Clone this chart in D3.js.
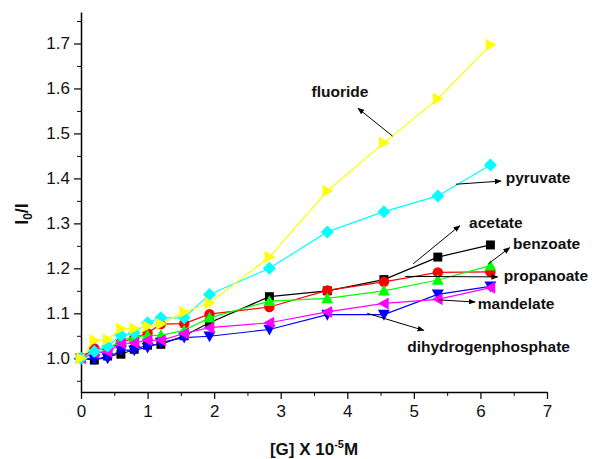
<!DOCTYPE html>
<html>
<head>
<meta charset="utf-8">
<script src="https://cdn.jsdelivr.net/npm/d3@7"></script>
<style>
  body { margin: 0; background: #fff; }
  text { font-family: "Liberation Sans", Arial, Helvetica, sans-serif; }
</style>
</head>
<body>
<script>
let width = 592, height = 459;

// concentration of guest, x 10^-5 M
let conc = [0, 0.2, 0.4, 0.6, 0.8, 1.0, 1.2, 1.55, 1.93, 2.83, 3.7, 4.55, 5.36, 6.15];

let acetate    = [1.0, 0.996, 1.005, 1.009, 1.02, 1.029, 1.031, 1.05, 1.079, 1.137, 1.15, 1.175, 1.225, 1.252];
let propanoate = [1.0, 1.022, 1.02, 1.035, 1.045, 1.056, 1.076, 1.077, 1.098, 1.114, 1.151, 1.17, 1.191, 1.192];
let benzoate   = [1.0, 1.01, 1.02, 1.04, 1.047, 1.051, 1.051, 1.062, 1.09, 1.127, 1.133, 1.15, 1.174, 1.206];
let phosphate  = [1.0, 0.998, 1.0, 1.018, 1.018, 1.024, 1.035, 1.046, 1.049, 1.064, 1.097, 1.097, 1.142, 1.16];
let mandelate  = [1.0, 1.012, 1.014, 1.033, 1.034, 1.04, 1.04, 1.055, 1.068, 1.079, 1.103, 1.122, 1.131, 1.157];
let pyruvate   = [1.0, 1.015, 1.027, 1.051, 1.056, 1.079, 1.09, 1.09, 1.142, 1.20, 1.281, 1.326, 1.361, 1.43];
let fluoride   = [1.0, 1.04, 1.042, 1.066, 1.066, 1.071, 1.076, 1.103, 1.123, 1.225, 1.372, 1.479, 1.577, 1.697];

let xTicks = [0, 1, 2, 3, 4, 5, 6, 7];
let yTicks = [1.0, 1.1, 1.2, 1.3, 1.4, 1.5, 1.6, 1.7];

let series = [
  { name: 'acetate', values: acetate, color: '#000000', shape: 'square' },
  { name: 'propanoate', values: propanoate, color: '#ff0000', shape: 'circle' },
  { name: 'benzoate', values: benzoate, color: '#00ff00', shape: 'up' },
  { name: 'dihydrogenphosphate', values: phosphate, color: '#0000ff', shape: 'down' },
  { name: 'mandelate', values: mandelate, color: '#ff00ff', shape: 'left' },
  { name: 'pyruvate', values: pyruvate, color: '#00ffff', shape: 'diamond' },
  { name: 'fluoride', values: fluoride, color: '#ffff00', shape: 'right' }
];

// label text position and arrow (from -> to), in data units
let notes = [
  { text: 'fluoride', tx: 3.89, ty: 1.592, anchor: 'middle', a: [4.68, 1.494, 4.16, 1.556] },
  { text: 'pyruvate', tx: 6.38, ty: 1.401, anchor: 'start', a: [5.63, 1.387, 6.31, 1.394] },
  { text: 'acetate', tx: 5.83, ty: 1.302, anchor: 'start', a: [4.99, 1.21, 5.69, 1.295] },
  { text: 'benzoate', tx: 6.49, ty: 1.256, anchor: 'start', a: [6.12, 1.21, 6.44, 1.246] },
  { text: 'propanoate', tx: 6.35, ty: 1.183, anchor: 'start', a: [4.87, 1.182, 6.26, 1.181] },
  { text: 'mandelate', tx: 5.96, ty: 1.121, anchor: 'start', a: [5.36, 1.13, 5.92, 1.125] },
  { text: 'dihydrogenphosphate', tx: 4.90, ty: 1.026, anchor: 'start', a: [4.30, 1.10, 5.15, 1.062] }
];

let x = d3.scaleLinear().domain([0, 7]).range([81, 547]);
let y = d3.scaleLinear().domain([0.925, 1.77]).range([392, 12]);

let svg = d3.select('body').append('svg')
  .attr('width', width)
  .attr('height', height);

svg.append('defs').append('marker')
  .attr('id', 'arr')
  .attr('viewBox', '0 0 10 10')
  .attr('refX', 9).attr('refY', 5)
  .attr('markerWidth', 7).attr('markerHeight', 7)
  .attr('markerUnits', 'userSpaceOnUse')
  .attr('orient', 'auto')
  .append('path')
  .attr('d', 'M0,1L10,5L0,9Z')
  .attr('fill', '#000');

// minor ticks
svg.append('g')
  .attr('transform', 'translate(0,392)')
  .call(d3.axisBottom(x).tickValues(d3.range(0.5, 7, 1)).tickSize(4).tickFormat(''))
  .call(g => g.select('.domain').remove());
svg.append('g')
  .attr('transform', 'translate(81,0)')
  .call(d3.axisLeft(y).tickValues(d3.range(0.95, 1.76, 0.1)).tickSize(4).tickFormat(''))
  .call(g => g.select('.domain').remove());

let xAxis = svg.append('g')
  .attr('transform', 'translate(0,392)')
  .call(d3.axisBottom(x).tickValues(xTicks).tickSize(7).tickSizeOuter(0).tickPadding(6).tickFormat(d3.format('d')));
let yAxis = svg.append('g')
  .attr('transform', 'translate(81,0)')
  .call(d3.axisLeft(y).tickValues(yTicks).tickSize(7).tickSizeOuter(0).tickPadding(4).tickFormat(d3.format('.1f')));

[xAxis, yAxis].forEach(function(g) {
  g.selectAll('text').attr('font-size', 17).attr('fill', '#111')
    .style('font-family', '"Liberation Sans", Arial, sans-serif');
  g.select('.domain').attr('stroke-width', 1.5);
  g.selectAll('line').attr('stroke-width', 1.3);
});
svg.selectAll('.tick line').attr('stroke', '#111');

let line = d3.line()
  .x(function(d, i) { return x(conc[i]); })
  .y(function(d) { return y(d); });

let sym = {
  square: d3.symbol().type(d3.symbolSquare).size(80),
  circle: d3.symbol().type(d3.symbolCircle).size(85)
};
function shapePath(kind) {
  let s = 6;
  if (sym[kind]) return sym[kind]();
  if (kind === 'diamond') return `M0,${-s-0.5}L${s+0.5},0L0,${s+0.5}L${-s-0.5},0Z`;
  if (kind === 'up') return `M0,${-s}L${s},${s*0.8}L${-s},${s*0.8}Z`;
  if (kind === 'down') return `M0,${s}L${s},${-s*0.8}L${-s},${-s*0.8}Z`;
  if (kind === 'right') return `M${s},0L${-s*0.8},${s}L${-s*0.8},${-s}Z`;
  return `M${-s},0L${s*0.8},${s}L${s*0.8},${-s}Z`;
}

series.forEach(function(s) {
  let g = svg.append('g');
  g.append('path')
    .attr('d', line(s.values))
    .attr('fill', 'none')
    .attr('stroke', s.color)
    .attr('stroke-width', 1.2);
  g.selectAll('path.pt')
    .data(s.values)
    .join('path')
    .attr('class', 'pt')
    .attr('transform', function(d, i) { return `translate(${x(conc[i])},${y(d)})`; })
    .attr('d', shapePath(s.shape))
    .attr('fill', s.color);
});

// annotations
notes.forEach(function(n) {
  svg.append('line')
    .attr('x1', x(n.a[0])).attr('y1', y(n.a[1]))
    .attr('x2', x(n.a[2])).attr('y2', y(n.a[3]))
    .attr('stroke', '#000')
    .attr('stroke-width', 1)
    .attr('marker-end', 'url(#arr)');
  svg.append('text')
    .attr('x', x(n.tx)).attr('y', y(n.ty))
    .attr('dy', '0.35em')
    .attr('text-anchor', n.anchor)
    .attr('font-size', 15.5)
    .attr('font-weight', 'bold')
    .attr('fill', '#111')
    .text(n.text);
});

// axis titles
let xt = svg.append('text')
  .attr('x', 314).attr('y', 455)
  .attr('text-anchor', 'middle')
  .attr('font-size', 17)
  .attr('font-weight', 'bold')
  .attr('fill', '#111');
xt.append('tspan').text('[G] X 10');
xt.append('tspan').attr('font-size', 11).attr('dy', -7).text('-5');
xt.append('tspan').attr('dy', 7).text('M');

let yt = svg.append('text')
  .attr('transform', 'translate(28,214) rotate(-90)')
  .attr('text-anchor', 'middle')
  .attr('font-size', 18)
  .attr('font-weight', 'bold')
  .attr('fill', '#111');
yt.append('tspan').text('I');
yt.append('tspan').attr('font-size', 12).attr('dy', 4).text('0');
yt.append('tspan').attr('dy', -4).text('/I');
</script>
</body>
</html>
